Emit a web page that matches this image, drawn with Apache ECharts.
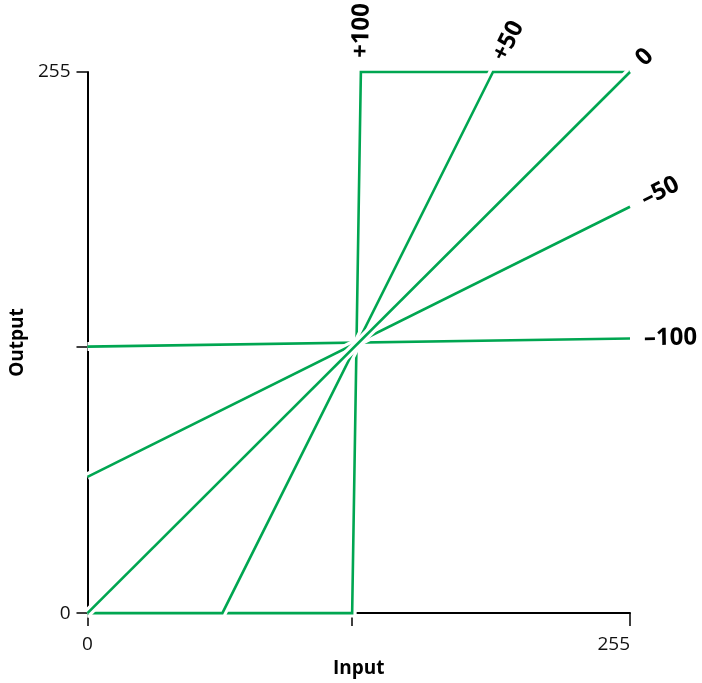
<!DOCTYPE html>
<html>
<head>
<meta charset="utf-8">
<script src="https://cdn.jsdelivr.net/npm/echarts@6/dist/echarts.min.js"></script>
<style>html,body{margin:0;padding:0;background:#fff;}#c{width:702px;height:683px;}</style>
</head>
<body>
<div id="c"></div>
<script>
// Axis range and ticks
const axisMin = 0;
const axisMax = 255;
const xTickValues = [0, 124.4, 255];
const yTickValues = [0, 125.6, 255];
const tickLabelValues = [0, 255];

// Curves (drawing order), input -> output points
const curveNames = ['–100', '–50', '+100', '+50', '0'];
const minus100X = [0, 255];
const minus100Y = [125.6, 129.4];
const minus50X = [0, 255];
const minus50Y = [64.2, 191.5];
const plus100X = [0, 124.4, 128.5, 255];
const plus100Y = [0, 0, 255, 255];
const plus50X = [0, 63.4, 190.6, 255];
const plus50Y = [0, 0, 255, 255];
const zeroX = [0, 255];
const zeroY = [0, 255];
// index of the point the curve's label sits beyond
const labelAnchorIndex = [1, 1, 2, 2, 1];

const curvesX = [minus100X, minus50X, plus100X, plus50X, zeroX];
const curvesY = [minus100Y, minus50Y, plus100Y, plus50Y, zeroY];

const green = '#00a651';
const chart = echarts.init(document.getElementById('c'), null, {renderer: 'canvas'});

const series = [];
curvesX.forEach((xs, i) => {
  const data = xs.map((x, j) => [x, curvesY[i][j]]);
  series.push({
    type: 'line', data, symbol: 'none', silent: true, clip: false, z: 2,
    lineStyle: {color: '#ffffff', width: 9, cap: 'butt', join: 'miter'}
  });
  series.push({
    type: 'line', name: curveNames[i], data, symbol: 'none', silent: true, clip: false, z: 2,
    lineStyle: {color: green, width: 2.6, cap: 'butt', join: 'miter'}
  });
});

const axisCommon = {
  type: 'value', min: axisMin, max: axisMax,
  splitLine: {show: false},
  axisLine: {show: true, lineStyle: {color: '#000', width: 2}},
  axisTick: {show: true, length: 12, lineStyle: {color: '#000', width: 1.5}},
  axisLabel: {color: '#111', fontFamily: 'Open Sans', fontSize: 19, customValues: tickLabelValues},
  nameLocation: 'middle',
  nameTextStyle: {color: '#000', fontFamily: 'Open Sans', fontWeight: 'bold', fontSize: 19}
};

chart.setOption({
  animation: false,
  backgroundColor: '#fff',
  grid: {left: 87, right: 72, top: 72, bottom: 67, containLabel: false},
  xAxis: Object.assign({}, axisCommon, {
    name: 'Input', nameGap: 44,
    axisTick: Object.assign({}, axisCommon.axisTick, {customValues: xTickValues, length: 13}),
    axisLabel: Object.assign({}, axisCommon.axisLabel, {margin: 22, alignMaxLabel: 'right'})
  }),
  yAxis: Object.assign({}, axisCommon, {
    name: 'Output', nameGap: 60,
    axisTick: Object.assign({}, axisCommon.axisTick, {customValues: yTickValues, length: 11}),
    axisLabel: Object.assign({}, axisCommon.axisLabel, {margin: 17})
  }),
  series
});

// Curve labels placed beyond each curve's anchor point, rotated along the segment
const graphics = curveNames.map((name, i) => {
  const k = labelAnchorIndex[i];
  const p1 = chart.convertToPixel({gridIndex: 0}, [curvesX[i][k - 1], curvesY[i][k - 1]]);
  const p2 = chart.convertToPixel({gridIndex: 0}, [curvesX[i][k], curvesY[i][k]]);
  const dx = p2[0] - p1[0], dy = p2[1] - p1[1];
  const len = Math.hypot(dx, dy);
  const ux = dx / len, uy = dy / len;
  const gap = 14;
  return {
    type: 'text',
    x: p2[0] + ux * gap,
    y: p2[1] + uy * gap,
    rotation: Math.atan2(-dy, dx),
    style: {
      text: name, fill: '#000', fontFamily: 'Open Sans', fontWeight: 'bold', fontSize: 24,
      align: 'left', verticalAlign: 'middle'
    },
    z: 100
  };
});
chart.setOption({graphic: graphics});
</script>
</body>
</html>
